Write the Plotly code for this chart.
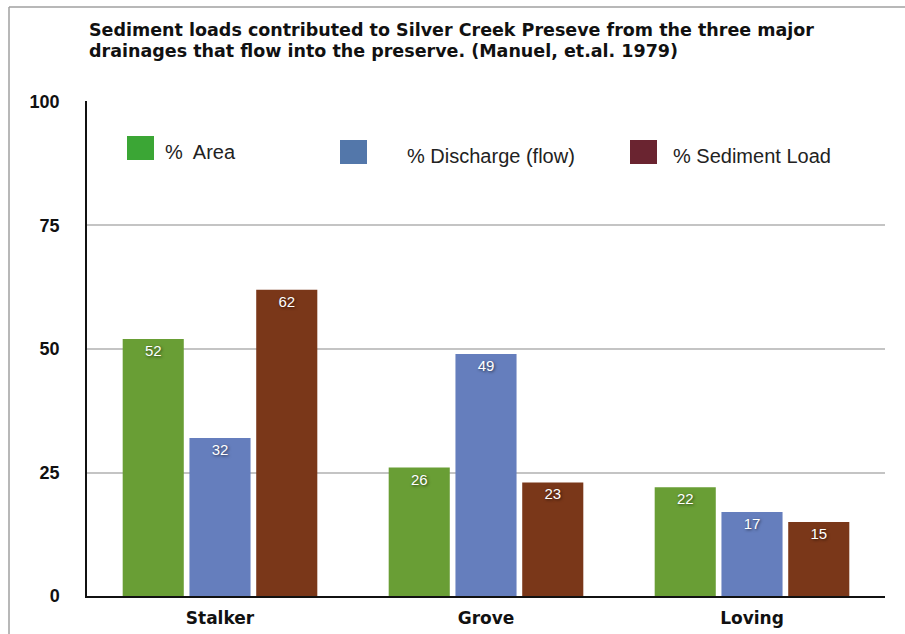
import plotly.graph_objects as go

categories = ["Stalker", "Grove", "Loving"]
series_names = ["%  Area", "% Discharge (flow)", "% Sediment Load"]
area = [52, 26, 22]
discharge = [32, 49, 17]
sediment = [62, 23, 15]
y_ticks = [0, 25, 50, 75, 100]
title_lines = ["Sediment loads contributed to Silver Creek Preseve from the three major",
               "drainages that flow into the preserve. (Manuel, et.al. 1979)"]

bar_colors = ["#699e35", "#657ebd", "#7a3719"]
legend_colors = ["#3ba635", "#5377aa", "#6a2430"]

W, H = 905, 634
L, R, T, B = 87, 20, 101, 38
pw, ph = W - L - R, H - T - B

def px_x(p):
    return (p - L) / pw

def px_y(p):
    return (H - B - p) / ph

fig = go.Figure()
for name, vals, col in zip(series_names, [area, discharge, sediment], bar_colors):
    fig.add_trace(go.Bar(
        x=categories, y=vals, name=name, marker=dict(color=col, line=dict(width=0)),
        text=[str(v) for v in vals], textposition="inside", insidetextanchor="end",
        textangle=0,
        textfont=dict(color="white", size=15, family="Liberation Sans, Arial",
                      shadow="1px 1px 3px rgba(0,0,0,0.6)"),
        showlegend=False,
    ))

shapes = []
annotations = []
# custom legend
leg_specs = [
    (127, 154, 136, 160, 163, 152),
    (340, 367, 140, 164, 405, 156),
    (630, 657, 140, 164, 671, 156),
]
for (x0, x1, y0, y1, tx, ty), name, col in zip(leg_specs, series_names, legend_colors):
    shapes.append(dict(type="rect", xref="paper", yref="paper",
                       x0=px_x(x0), x1=px_x(x1), y0=px_y(y1), y1=px_y(y0),
                       fillcolor=col, line=dict(width=0), layer="above"))
    annotations.append(dict(xref="paper", yref="paper", x=px_x(tx), y=px_y(ty),
                            xanchor="left", yanchor="middle", text=name, showarrow=False,
                            font=dict(size=20, color="#222222", family="Liberation Sans, Arial")))

# outer frame lines
shapes.append(dict(type="line", xref="paper", yref="paper", x0=px_x(9), x1=px_x(9),
                   y0=px_y(7), y1=px_y(640), line=dict(color="#a0a0a0", width=1.5)))
shapes.append(dict(type="line", xref="paper", yref="paper", x0=px_x(9), x1=px_x(910),
                   y0=px_y(7), y1=px_y(7), line=dict(color="#a0a0a0", width=1.5)))

for line, yc in zip(title_lines, [30, 51]):
    annotations.append(dict(xref="paper", yref="paper", x=px_x(87), y=px_y(yc),
                            xanchor="left", yanchor="middle", align="left", showarrow=False,
                            text=line,
                            font=dict(size=17.5, color="#111111", family="DejaVu Sans",
                                      weight="bold")))

fig.update_layout(
    width=W, height=H,
    margin=dict(l=L, r=R, t=T, b=B, pad=0, autoexpand=False),
    paper_bgcolor="white", plot_bgcolor="white",
    barmode="group", bargap=0.247, bargroupgap=0.085,
    shapes=shapes, annotations=annotations,
    xaxis=dict(range=[-0.5, 2.5], showgrid=False, showline=True, linecolor="#111111",
               linewidth=2, ticks="", automargin=False,
               tickfont=dict(size=17, color="#111111",
               family="DejaVu Sans", weight="bold"), ticklabelstandoff=6),
    yaxis=dict(range=[0, 100.2], tickvals=y_ticks, showgrid=True, gridcolor="#c4c4c4",
               gridwidth=1.5, showline=True, linecolor="#111111", linewidth=1.5,
               zeroline=False, ticks="", automargin=False,
               tickfont=dict(size=18, color="#111111", family="Liberation Sans, Arial",
                             weight="bold"), ticklabelstandoff=22),
)

fig.write_html("out.html", config={"displayModeBar": False},
               post_script="document.body.style.margin='0px';")
